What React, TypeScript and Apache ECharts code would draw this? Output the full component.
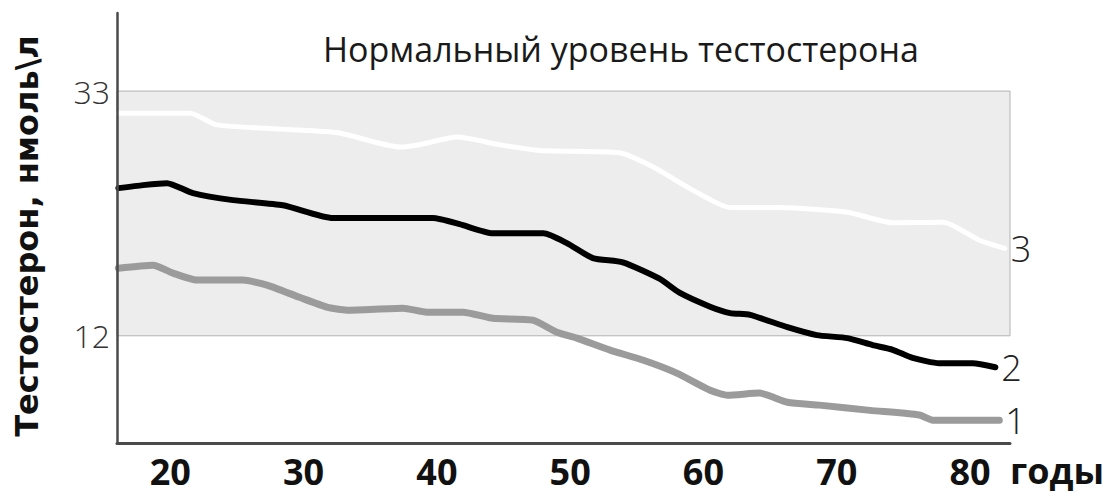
import React, { useEffect, useRef } from "react";
import * as echarts from "echarts";

// Series 3 (upper, white)
const ages3 = [16.1, 21.5, 23.5, 29.7, 32.7, 37.2, 38.7, 41.5, 44.7, 47.7, 53.7, 56.2, 59.2, 62.0, 65.7, 70.8, 74.2, 78.0, 80.7, 82.6];
const level3 = [31.1, 31.1, 30.1, 29.65, 29.4, 28.2, 28.4, 29.05, 28.4, 27.9, 27.7, 26.5, 24.5, 23.0, 23.0, 22.6, 21.7, 21.75, 20.2, 19.5];

// Series 2 (middle, black)
const ages2 = [16.1, 17.95, 19.75, 21.7, 24.7, 28.45, 32.2, 39.7, 41.7, 44.2, 48.0, 49.75, 51.7, 53.95, 56.7, 58.2, 60.5, 62.0, 63.5, 66.3, 68.5, 70.8, 72.7, 74.2, 75.7, 77.7, 80.2, 81.9];
const level2 = [24.67, 24.93, 25.1, 24.24, 23.64, 23.2, 22.1, 22.1, 21.58, 20.8, 20.8, 19.95, 18.67, 18.3, 16.9, 15.7, 14.5, 13.95, 13.8, 12.74, 12.06, 11.8, 11.2, 10.8, 10.1, 9.65, 9.65, 9.3];

// Series 1 (lower, gray)
const ages1 = [16.1, 18.7, 20.2, 22.0, 25.45, 27.25, 29.7, 31.75, 33.25, 37.45, 39.25, 41.95, 44.2, 47.2, 49.0, 50.5, 53.0, 55.5, 58.0, 60.5, 61.8, 64.2, 66.3, 68.7, 72.5, 76.2, 77.2, 82.2];
const level1 = [17.8, 18.06, 17.38, 16.78, 16.78, 16.35, 15.3, 14.46, 14.2, 14.37, 14.03, 14.03, 13.5, 13.34, 12.3, 11.8, 10.77, 9.9, 8.8, 7.33, 6.9, 7.08, 6.3, 6.05, 5.6, 5.2, 4.76, 4.76];

const xTicks = [20, 30, 40, 50, 60, 70, 80];
const yTicks = [12, 33];
const normalRange = [12, 33];
const seriesNames = ["1", "2", "3"];

const title = "Нормальный уровень тестостерона";
const yName = "Тестостерон, нмоль\\л";
const xName = "годы";

export default function App() {
  const ref = useRef<HTMLDivElement>(null);
  useEffect(() => {
    if (!ref.current) return;
    const chart = echarts.init(ref.current, undefined, { renderer: "svg" });
    const pair = (a: number[], v: number[]) => a.map((x, i) => [x, v[i]]);
    const endLabel = (txt: string) => ({
      show: true,
      formatter: txt,
      distance: 6,
      fontSize: 36,
      fontFamily: "Open Sans",
      fontWeight: 300,
      color: "#222",
    });
    chart.setOption({
      animation: false,
      backgroundColor: "#ffffff",
      title: {
        text: title,
        left: 318,
        top: 27,
        textStyle: { fontFamily: "Open Sans", fontSize: 34, fontWeight: "normal", color: "#1a1a1a" },
      },
      grid: { left: 117, right: 97, top: 13, bottom: 53, containLabel: false },
      xAxis: {
        type: "value",
        min: 16,
        max: 83,
        z: 10,
        axisLine: { show: true, lineStyle: { color: "#4a4a4a", width: 3 } },
        axisTick: { show: false },
        splitLine: { show: false },
        axisLabel: {
          customValues: xTicks,
          margin: 10,
          fontFamily: "Open Sans",
          fontWeight: "bold",
          fontSize: 36,
          color: "#111",
        },
      },
      yAxis: {
        type: "value",
        min: 2.8,
        max: 39.7,
        z: 10,
        axisLine: { show: true, lineStyle: { color: "#4a4a4a", width: 2.5 } },
        axisTick: { show: false },
        splitLine: { show: false },
        axisLabel: {
          customValues: yTicks,
          margin: 7,
          fontFamily: "Open Sans",
          fontWeight: 300,
          fontSize: 32,
          color: "#333",
        },
      },
      graphic: [
        {
          type: "text",
          x: 27,
          y: 236,
          rotation: Math.PI / 2,
          style: {
            text: yName,
            fontFamily: "DejaVu Sans",
            fontWeight: "bold",
            fontSize: 32,
            fill: "#111",
            align: "center",
            verticalAlign: "middle",
          },
        },
        {
          type: "text",
          x: 1010,
          y: 452,
          style: {
            text: xName,
            fontFamily: "Open Sans",
            fontWeight: "bold",
            fontSize: 36,
            fill: "#111",
            align: "left",
            verticalAlign: "top",
          },
        },
      ],
      series: [
        {
          type: "line",
          data: [],
          z: 1,
          silent: true,
          markArea: {
            silent: true,
            itemStyle: { color: "#ededed", borderColor: "#b3b3b3", borderWidth: 1 },
            data: [[{ yAxis: normalRange[0] }, { yAxis: normalRange[1] }]],
          },
        },
        {
          name: seriesNames[0],
          type: "line",
          z: 3,
          data: pair(ages1, level1),
          smooth: 0.2,
          showSymbol: false,
          lineStyle: { color: "#9b9b9b", width: 7, cap: "round", join: "round" },
          endLabel: endLabel(seriesNames[0]),
        },
        {
          name: seriesNames[1],
          type: "line",
          z: 4,
          data: pair(ages2, level2),
          smooth: 0.2,
          showSymbol: false,
          lineStyle: { color: "#000000", width: 6, cap: "round", join: "round" },
          endLabel: endLabel(seriesNames[1]),
        },
        {
          name: seriesNames[2],
          type: "line",
          z: 3,
          data: pair(ages3, level3),
          smooth: 0.2,
          showSymbol: false,
          lineStyle: { color: "#ffffff", width: 5, cap: "round", join: "round" },
          endLabel: endLabel(seriesNames[2]),
        },
      ],
    });
    return () => chart.dispose();
  }, []);
  return (
    <div
      ref={ref}
      style={{ position: "fixed", left: 0, top: 0, width: 1107, height: 496 }}
    />
  );
}
